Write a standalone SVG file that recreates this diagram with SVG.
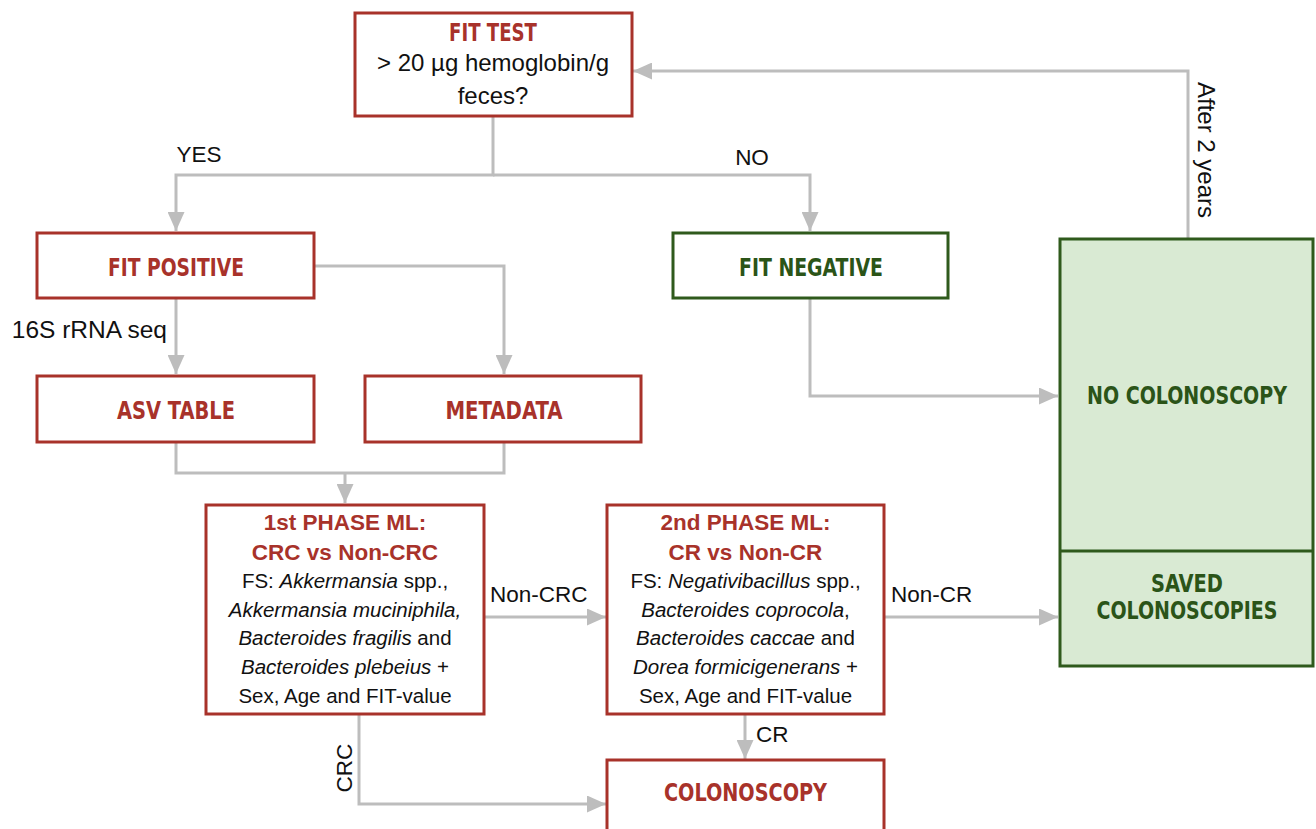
<svg xmlns="http://www.w3.org/2000/svg" width="1316" height="829" viewBox="0 0 1316 829">
<style>
.bg{fill:#ffffff}
.rbox{fill:#ffffff;stroke:#a8322a;stroke-width:3}
.gbox{fill:#ffffff;stroke:#2f5a1c;stroke-width:3}
.gfill{fill:#d9ead3;stroke:#2f5a1c;stroke-width:3}
.conn{fill:none;stroke:#bdbdbd;stroke-width:3}
.t{font-family:"DejaVu Sans Condensed","DejaVu Sans",sans-serif;font-weight:bold;font-size:24px;text-anchor:middle;font-stretch:condensed}
.tr{fill:#a8322a}
.tg{fill:#2b5418}
.ph{font-family:"Liberation Sans",Arial,sans-serif;font-weight:bold;font-size:22.5px;fill:#a8322a;text-anchor:middle}
.b{font-family:"Liberation Sans",Arial,sans-serif;font-size:20.5px;fill:#111;text-anchor:middle}
.b24{font-family:"Liberation Sans",Arial,sans-serif;font-size:24px;fill:#111;text-anchor:middle}
.lbl{font-family:"Liberation Sans",Arial,sans-serif;font-size:22.5px;fill:#111}
.i{font-style:italic}
</style>
<defs>
<marker id="ah" markerUnits="userSpaceOnUse" markerWidth="19" markerHeight="17" refX="19" refY="8.5" orient="auto">
<path d="M0,0 L19,8.5 L0,17 z" fill="#bdbdbd"/>
</marker>
</defs>
<rect class="bg" x="0" y="0" width="1316" height="829"/>

<g id="connectors">
<path class="conn" d="M493,116 V175 H176 V231" marker-end="url(#ah)"/>
<path class="conn" d="M493,175 H810 V231" marker-end="url(#ah)"/>
<path class="conn" d="M314,266 H504 V374" marker-end="url(#ah)"/>
<path class="conn" d="M176,298 V374" marker-end="url(#ah)"/>
<path class="conn" d="M176,442 V473 H504 V442"/>
<path class="conn" d="M345,473 V503" marker-end="url(#ah)"/>
<path class="conn" d="M484,617 H606" marker-end="url(#ah)"/>
<path class="conn" d="M884,617 H1058" marker-end="url(#ah)"/>
<path class="conn" d="M810,298 V396 H1058" marker-end="url(#ah)"/>
<path class="conn" d="M1188,239 V71 H633" marker-end="url(#ah)"/>
<path class="conn" d="M359,714 V804 H606" marker-end="url(#ah)"/>
<path class="conn" d="M745,714 V759" marker-end="url(#ah)"/>
</g>

<g id="labels">
<text class="lbl" x="199" y="162" text-anchor="middle">YES</text>
<text class="lbl" x="752" y="165" text-anchor="middle">NO</text>
<text class="lbl" style="font-size:24.5px" x="167" y="338" text-anchor="end">16S rRNA seq</text>
<text class="lbl" x="490" y="602">Non-CRC</text>
<text class="lbl" x="891" y="602">Non-CR</text>
<text class="lbl" x="756" y="742">CR</text>
<text class="lbl" text-anchor="middle" transform="translate(352,768) rotate(-90)">CRC</text>
<text class="lbl" style="font-size:24px" text-anchor="middle" transform="translate(1198,150) rotate(90)">After 2 years</text>
</g>

<g id="fit-test">
<rect class="rbox" x="355" y="13" width="277" height="103"/>
<text class="t tr" x="493" y="41" textLength="88" lengthAdjust="spacingAndGlyphs">FIT TEST</text>
<text class="b24" x="493" y="71">&gt; 20 µg hemoglobin/g</text>
<text class="b24" x="493" y="104">feces?</text>
</g>

<g id="fit-positive">
<rect class="rbox" x="37" y="233" width="277" height="65"/>
<text class="t tr" x="176" y="276" textLength="136" lengthAdjust="spacingAndGlyphs">FIT POSITIVE</text>
</g>

<g id="fit-negative">
<rect class="gbox" x="673" y="233" width="275" height="65"/>
<text class="t tg" x="811" y="276" textLength="144" lengthAdjust="spacingAndGlyphs">FIT NEGATIVE</text>
</g>

<g id="asv-table">
<rect class="rbox" x="37" y="376" width="277" height="66"/>
<text class="t tr" x="176" y="419" textLength="118" lengthAdjust="spacingAndGlyphs">ASV TABLE</text>
</g>

<g id="metadata">
<rect class="rbox" x="365" y="376" width="276" height="66"/>
<text class="t tr" x="504" y="419" textLength="117" lengthAdjust="spacingAndGlyphs">METADATA</text>
</g>

<g id="no-colonoscopy">
<rect class="gfill" x="1060" y="239" width="253" height="427"/>
<line x1="1060" y1="551" x2="1313" y2="551" stroke="#2f5a1c" stroke-width="3"/>
<text class="t tg" x="1187" y="404" textLength="200" lengthAdjust="spacingAndGlyphs">NO COLONOSCOPY</text>
</g>

<g id="saved-colonoscopies">
<text class="t tg" x="1187" y="592" textLength="72" lengthAdjust="spacingAndGlyphs">SAVED</text>
<text class="t tg" x="1187" y="619" textLength="181" lengthAdjust="spacingAndGlyphs">COLONOSCOPIES</text>
</g>

<g id="phase1">
<rect class="rbox" x="206" y="505" width="278" height="209"/>
<text class="ph" x="345" y="530">1st PHASE ML:</text>
<text class="ph" x="345" y="560">CRC vs Non-CRC</text>
<text class="b" x="345" y="588">FS: <tspan class="i">Akkermansia</tspan> spp.,</text>
<text class="b" x="345" y="617"><tspan class="i">Akkermansia muciniphila,</tspan></text>
<text class="b" x="345" y="645"><tspan class="i">Bacteroides fragilis</tspan> and</text>
<text class="b" x="345" y="674"><tspan class="i">Bacteroides plebeius</tspan> +</text>
<text class="b" x="345" y="703">Sex, Age and FIT-value</text>
</g>

<g id="phase2">
<rect class="rbox" x="607" y="505" width="277" height="209"/>
<text class="ph" x="745.5" y="530">2nd PHASE ML:</text>
<text class="ph" x="745.5" y="560">CR vs Non-CR</text>
<text class="b" x="745.5" y="588">FS: <tspan class="i">Negativibacillus</tspan> spp.,</text>
<text class="b" x="745.5" y="617"><tspan class="i">Bacteroides coprocola</tspan>,</text>
<text class="b" x="745.5" y="645"><tspan class="i">Bacteroides caccae</tspan> and</text>
<text class="b" x="745.5" y="674"><tspan class="i">Dorea formicigenerans</tspan> +</text>
<text class="b" x="745.5" y="703">Sex, Age and FIT-value</text>
</g>

<g id="colonoscopy">
<rect class="rbox" x="607" y="760" width="277" height="90"/>
<text class="t tr" x="745.5" y="801" textLength="163" lengthAdjust="spacingAndGlyphs">COLONOSCOPY</text>
</g>
</svg>
